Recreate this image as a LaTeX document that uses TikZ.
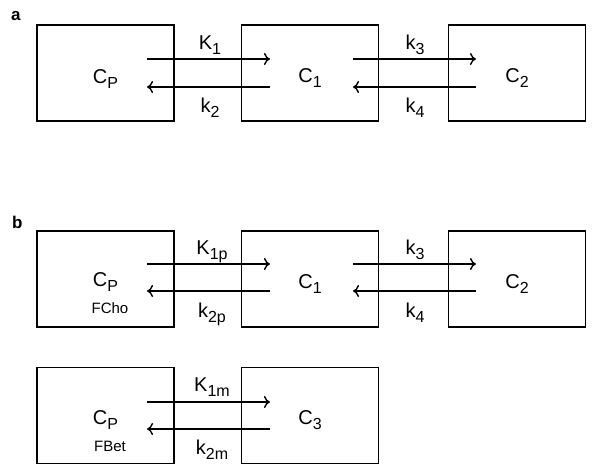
\documentclass[tikz,border=0pt]{standalone}
\usepackage{fontspec}
\setmainfont{Liberation Sans}
\usetikzlibrary{arrows.meta}
\newcommand\sbs[1]{\raisebox{-5pt}{\fontsize{16}{16}\selectfont #1}}
\tikzset{
  comp/.style={draw, line width=1.4pt, minimum width=137pt, minimum height=96pt, inner sep=0pt},
  flow/.style={line width=1.4pt, -{To[length=6pt,width=12pt,line width=1.4pt]}},
  lbl/.style={anchor=base, inner sep=0pt, font=\fontsize{20}{20}\selectfont},
  tracer/.style={anchor=base, inner sep=0pt, font=\fontsize{15}{15}\selectfont},
  panel/.style={anchor=base west, inner sep=0pt, font=\fontsize{17}{17}\selectfont\bfseries}
}
\begin{document}
\begin{tikzpicture}[x=1pt,y=-1pt]
\useasboundingbox (0,0) rectangle (600,475);
% panel a
\node[panel] (la) at (11,20) {a};
\node[comp] (a0) at (105.5,73) {};
\node[comp] (a1) at (310,73) {};
\node[comp] (a2) at (517,73) {};
\node[lbl] (ta0) at (105.5,83) {C\sbs{P}};
\node[lbl] (ta1) at (310,82) {C\sbs{1}};
\node[lbl] (ta2) at (517,82) {C\sbs{2}};
\coordinate (a0u) at (147,59); \coordinate (a1u) at (270,59);
\coordinate (a0d) at (147,87); \coordinate (a1d) at (270,87);
\coordinate (a1uu) at (353,59); \coordinate (a2u) at (476,59);
\coordinate (a1dd) at (353,87); \coordinate (a2d) at (476,87);
\draw[flow] (a0u) -- (a1u);
\draw[flow] (a1d) -- (a0d);
\draw[flow] (a1uu) -- (a2u);
\draw[flow] (a2d) -- (a1dd);
\node[lbl] (ka1) at (210,49) {K\sbs{1}};
\node[lbl] (ka2) at (210,112) {k\sbs{2}};
\node[lbl] (ka3) at (415,49) {k\sbs{3}};
\node[lbl] (ka4) at (415,112) {k\sbs{4}};
% panel b
\node[panel] (lb) at (12,228) {b};
\node[comp] (b0) at (105.5,279) {};
\node[comp] (b1) at (310,279) {};
\node[comp] (b2) at (517,279) {};
\node[lbl] (tb0) at (105.5,286) {C\sbs{P}};
\node[tracer] (fb0) at (110,313) {FCho};
\node[lbl] (tb1) at (310,288) {C\sbs{1}};
\node[lbl] (tb2) at (517,288) {C\sbs{2}};
\coordinate (b0u) at (147,264); \coordinate (b1u) at (270,264);
\coordinate (b0d) at (147,291); \coordinate (b1d) at (270,291);
\coordinate (b1uu) at (353,264); \coordinate (b2u) at (476,264);
\coordinate (b1dd) at (353,291); \coordinate (b2d) at (476,291);
\draw[flow] (b0u) -- (b1u);
\draw[flow] (b1d) -- (b0d);
\draw[flow] (b1uu) -- (b2u);
\draw[flow] (b2d) -- (b1dd);
\node[lbl] (kb1) at (212,254) {K\sbs{1p}};
\node[lbl] (kb2) at (212,317) {k\sbs{2p}};
\node[lbl] (kb3) at (415,254) {k\sbs{3}};
\node[lbl] (kb4) at (415,317) {k\sbs{4}};
% bottom row
\node[comp] (m0) at (105.5,415.5) {};
\node[comp] (m1) at (310,415.5) {};
\node[lbl] (tm0) at (105.5,424) {C\sbs{P}};
\node[tracer] (fm0) at (110,451) {FBet};
\node[lbl] (tm1) at (310,424) {C\sbs{3}};
\coordinate (m0u) at (147,402); \coordinate (m1u) at (270,402);
\coordinate (m0d) at (147,429); \coordinate (m1d) at (270,429);
\draw[flow] (m0u) -- (m1u);
\draw[flow] (m1d) -- (m0d);
\node[lbl] (km1) at (212,391) {K\sbs{1m}};
\node[lbl] (km2) at (212,454) {k\sbs{2m}};
\end{tikzpicture}
\end{document}
